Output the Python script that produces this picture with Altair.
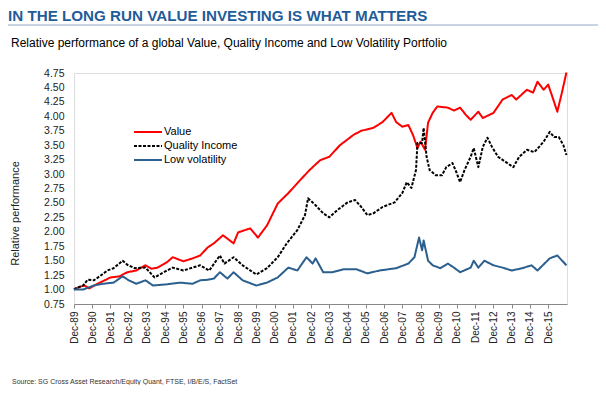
import altair as alt
import pandas as pd

TITLE = "IN THE LONG RUN VALUE INVESTING IS WHAT MATTERS"
SUBTITLE = "Relative performance of a global Value, Quality Income and Low Volatility Portfolio"
SOURCE = "Source: SG Cross Asset Research/Equity Quant, FTSE, I/B/E/S, FactSet"
SERIES = ["Value", "Quality Income", "Low volatility"]
COLORS = ["#FF0000", "#000000", "#2B5F8E"]

# months after Dec-1989, relative performance
value_months = [0, 4, 7, 10, 14, 17, 21, 24, 30, 35, 41, 47, 51, 55, 61, 65, 72, 78, 83, 88, 92, 98,
                105, 108, 116, 121, 127, 134, 141, 149, 155, 162, 168, 175, 184, 189, 197, 203, 209,
                212, 216, 220, 223, 226, 228, 231, 233, 236, 239, 246, 250, 254, 258, 261, 266, 269,
                276, 282, 288, 291, 298, 302, 305, 309, 312, 315, 318, 321, 324]
value_vals = [1.00, 1.05, 1.07, 1.02, 1.08, 1.12, 1.17, 1.21, 1.23, 1.30, 1.33, 1.42, 1.36, 1.38,
              1.47, 1.56, 1.49, 1.54, 1.59, 1.73, 1.80, 1.94, 1.80, 1.99, 2.06, 1.90, 2.11, 2.49,
              2.67, 2.90, 3.07, 3.24, 3.30, 3.50, 3.68, 3.75, 3.80, 3.90, 4.06, 3.90, 3.82, 3.85,
              3.68, 3.45, 3.56, 3.42, 3.89, 4.06, 4.17, 4.15, 4.10, 4.15, 4.02, 3.94, 4.08, 3.97,
              4.06, 4.29, 4.37, 4.29, 4.46, 4.41, 4.60, 4.46, 4.55, 4.32, 4.08, 4.41, 4.76]

quality_months = [0, 1, 6, 9, 13, 17, 22, 26, 32, 35, 40, 47, 53, 59, 65, 72, 78, 83, 89, 96, 99,
                  105, 111, 120, 127, 134, 140, 147, 152, 154, 159, 164, 168, 173, 180, 185, 189,
                  193, 197, 203, 211, 216, 219, 222, 225, 226, 229, 230, 232, 234, 238, 242, 245,
                  249, 251, 254, 257, 261, 263, 266, 269, 272, 275, 279, 284, 289, 293, 298, 303,
                  309, 313, 316, 319, 322, 324]
quality_vals = [1.00, 1.02, 1.07, 1.17, 1.16, 1.23, 1.33, 1.37, 1.50, 1.43, 1.37, 1.38, 1.21, 1.30,
                1.38, 1.33, 1.38, 1.42, 1.33, 1.59, 1.45, 1.56, 1.42, 1.26, 1.37, 1.56, 1.80, 2.03,
                2.29, 2.58, 2.46, 2.32, 2.25, 2.37, 2.51, 2.55, 2.43, 2.29, 2.32, 2.43, 2.51, 2.67,
                2.86, 2.76, 3.07, 3.54, 3.54, 3.80, 3.30, 3.07, 2.98, 2.98, 3.12, 3.19, 3.07, 2.86,
                3.07, 3.30, 3.45, 3.12, 3.47, 3.63, 3.47, 3.30, 3.21, 3.12, 3.30, 3.42, 3.38, 3.56,
                3.73, 3.64, 3.64, 3.50, 3.33]

lowvol_months = [0, 6, 13, 19, 26, 32, 36, 41, 47, 52, 61, 70, 78, 83, 88, 92, 96, 101, 105, 111,
                 120, 127, 134, 141, 147, 153, 157, 159, 164, 170, 177, 186, 193, 201, 212, 220,
                 224, 227, 229, 230, 233, 236, 241, 246, 250, 254, 261, 263, 266, 270, 276, 282,
                 288, 295, 301, 305, 313, 318, 324]
lowvol_vals = [1.00, 1.00, 1.07, 1.10, 1.12, 1.23, 1.16, 1.10, 1.16, 1.07, 1.09, 1.12, 1.10, 1.16,
               1.17, 1.19, 1.30, 1.19, 1.30, 1.16, 1.07, 1.12, 1.21, 1.38, 1.33, 1.56, 1.45, 1.54,
               1.30, 1.30, 1.35, 1.35, 1.28, 1.33, 1.37, 1.45, 1.56, 1.90, 1.68, 1.85, 1.50, 1.42,
               1.37, 1.45, 1.38, 1.30, 1.38, 1.50, 1.38, 1.50, 1.42, 1.38, 1.33, 1.37, 1.42, 1.33,
               1.54, 1.59, 1.42]

y_ticks = [0.75 + 0.25 * i for i in range(17)]
x_tick_years = list(range(1989, 2016))

start = pd.Timestamp("1989-12-01")
rows = []
for name, months, vals in [(SERIES[0], value_months, value_vals),
                           (SERIES[1], quality_months, quality_vals),
                           (SERIES[2], lowvol_months, lowvol_vals)]:
    for m, v in zip(months, vals):
        rows.append({"series": name, "date": start + pd.DateOffset(months=m), "value": v})
df = pd.DataFrame(rows)

FONT = "Liberation Sans"
W, H = 493, 231

lines = alt.Chart(df).mark_line(strokeWidth=2, strokeJoin="round").encode(
    x=alt.X("date:T",
            scale=alt.Scale(domain=[alt.DateTime(year=1989, month=12, date=1),
                                    alt.DateTime(year=2016, month=12, date=12)], nice=False),
            axis=alt.Axis(values=[alt.DateTime(year=y, month=12, date=1) for y in x_tick_years],
                          format="%b-%y", labelAngle=-90, labelFontSize=10, labelFont=FONT,
                          labelColor="#222222", domainColor="#888888", tickColor="#888888",
                          tickSize=4, labelPadding=3, grid=False, title=None, labelOverlap=False,
                          labelBaseline="middle", labelAlign="right")),
    y=alt.Y("value:Q",
            scale=alt.Scale(domain=[0.75, 4.75], nice=False, zero=False),
            axis=alt.Axis(values=y_ticks, format=".2f", labelFontSize=10.5, labelFont=FONT,
                          labelColor="#222222", domain=False, ticks=False, labelPadding=10,
                          grid=False, title="Relative performance", titleFont=FONT,
                          titleFontSize=11, titleFontWeight="normal", titleColor="#222222",
                          titleX=-54, titleY=140, labelOverlap=False)),
    color=alt.Color("series:N", scale=alt.Scale(domain=SERIES, range=COLORS),
                    legend=alt.Legend(title=None, orient="none", legendX=68, legendY=53,
                                      symbolType="M-2.8,0H2.8", symbolSize=100,
                                      symbolStrokeWidth=2, symbolFillColor="transparent",
                                      labelFont=FONT, labelFontSize=11, labelColor="#000000",
                                      labelOffset=10, rowPadding=3)),
    strokeDash=alt.StrokeDash("series:N",
                              scale=alt.Scale(domain=SERIES, range=[[1, 0], [3, 1.5], [1, 0]]),
                              legend=None),
    order=alt.Order("date:T"),
)

title_t = alt.Chart(pd.DataFrame({"t": [TITLE]})).mark_text(
    align="left", baseline="alphabetic", font=FONT, fontSize=15.2, fontWeight="bold",
    color="#1F5C99").encode(text="t:N", x=alt.value(-66), y=alt.value(-52))
sub_t = alt.Chart(pd.DataFrame({"t": [SUBTITLE]})).mark_text(
    align="left", baseline="alphabetic", font=FONT, fontSize=12, color="#000000").encode(
    text="t:N", x=alt.value(-63), y=alt.value(-26))
src_t = alt.Chart(pd.DataFrame({"t": [SOURCE]})).mark_text(
    align="left", baseline="alphabetic", font=FONT, fontSize=7, color="#333333").encode(
    text="t:N", x=alt.value(-62), y=alt.value(311))
rule = alt.Chart(pd.DataFrame({"t": [0]})).mark_rule(color="#8FA8C4", strokeWidth=1).encode(
    x=alt.value(-66), x2=alt.value(526), y=alt.value(-48))

chart = alt.layer(lines, title_t, sub_t, src_t, rule).properties(
    width=W, height=H,
    autosize=alt.AutoSizeParams(type="none"),
    padding={"left": 66, "top": 65, "right": 31, "bottom": 81},
).configure_view(stroke=None).configure(background="white")

chart.save("out.html", embed_options={"renderer": "svg", "actions": False})
